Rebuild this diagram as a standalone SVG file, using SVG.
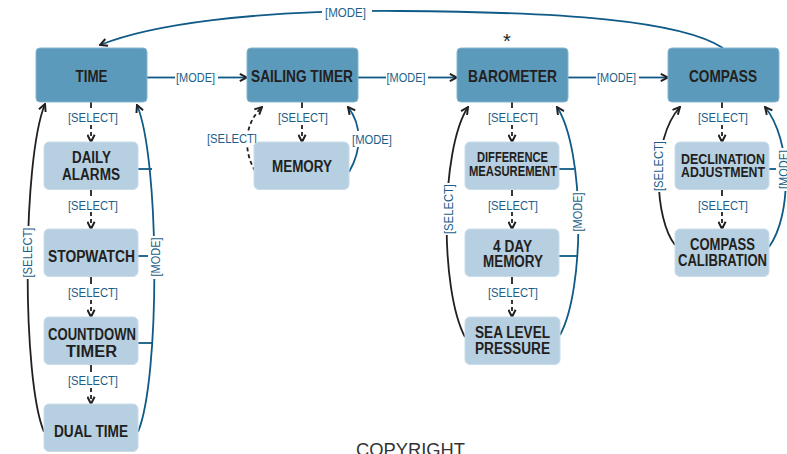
<svg xmlns="http://www.w3.org/2000/svg" width="787" height="454" viewBox="0 0 787 454">
<style>
.dk{fill:#5b9aba;stroke:#86b4ce;stroke-width:1}
.lt{fill:#b6cfe1;stroke:#c9dcea;stroke-width:1}
.t{font-family:"Liberation Sans",Arial,sans-serif;font-weight:bold;fill:#231f20;text-anchor:middle}
.m{font-size:16.5px}
.s{font-size:16px}
.xs{font-size:15px}
.lb{font-family:"Liberation Sans",Arial,sans-serif;font-size:12.5px;fill:#1d5f8a;text-anchor:middle}
.bl{stroke:#0f5a86;stroke-width:1.8;fill:none}
.bk{stroke:#231f20;stroke-width:1.8;fill:none}
.ds{stroke-dasharray:4 3}
.bg{fill:#ffffff}
</style>
<defs>
<marker id="arr" viewBox="0 0 10 10" refX="9" refY="5" markerWidth="9" markerHeight="9" markerUnits="userSpaceOnUse" orient="auto">
<path d="M1,1 L9,5 L1,9" fill="none" stroke="#231f20" stroke-width="2.2"/>
</marker>
</defs>
<rect width="787" height="454" fill="#ffffff"/>

<g id="connectors">
<!-- top arc compass -> time -->
<path class="bl" d="M723,48 C680,20 560,12 400,11 C250,10 150,25 100,45" marker-end="url(#arr)"/>
<rect class="bg" x="322" y="3" width="50" height="17"/>
<text class="lb" x="345.5" y="16.5" textLength="41" lengthAdjust="spacingAndGlyphs">[MODE]</text>

<!-- horizontal mode arrows -->
<path class="bl" d="M147,77.5 H175"/>
<path class="bl" d="M218,77.5 H247" marker-end="url(#arr)"/>
<text class="lb" x="195.5" y="81.5" textLength="39" lengthAdjust="spacingAndGlyphs">[MODE]</text>
<path class="bl" d="M358,77.5 H386"/>
<path class="bl" d="M428,77.5 H457" marker-end="url(#arr)"/>
<text class="lb" x="406" y="81.5" textLength="39" lengthAdjust="spacingAndGlyphs">[MODE]</text>
<path class="bl" d="M568,77.5 H596"/>
<path class="bl" d="M639,77.5 H668" marker-end="url(#arr)"/>
<text class="lb" x="616.5" y="81.5" textLength="39" lengthAdjust="spacingAndGlyphs">[MODE]</text>

<!-- TIME column select chain -->
<path class="bk" d="M91,102 V108"/>
<path class="bk ds" d="M91,125 V142" marker-end="url(#arr)"/>
<text class="lb" x="93" y="122" textLength="50" lengthAdjust="spacingAndGlyphs">[SELECT]</text>
<path class="bk" d="M91,189.5 V196"/>
<path class="bk ds" d="M91,212 V229" marker-end="url(#arr)"/>
<text class="lb" x="93" y="209.5" textLength="50" lengthAdjust="spacingAndGlyphs">[SELECT]</text>
<path class="bk" d="M91,276.5 V284"/>
<path class="bk ds" d="M91,300 V317" marker-end="url(#arr)"/>
<text class="lb" x="93" y="297" textLength="50" lengthAdjust="spacingAndGlyphs">[SELECT]</text>
<path class="bk" d="M91,364.5 V372"/>
<path class="bk ds" d="M91,388 V404" marker-end="url(#arr)"/>
<text class="lb" x="93" y="385" textLength="50" lengthAdjust="spacingAndGlyphs">[SELECT]</text>

<!-- TIME column return arcs -->
<path class="bk" d="M44,432 C22,380 22,160 45,104" marker-end="url(#arr)"/>
<rect class="bg" x="20" y="226" width="14" height="53"/>
<text class="lb" transform="translate(27,252.5) rotate(-90)" x="0" y="4.5" textLength="50" lengthAdjust="spacingAndGlyphs">[SELECT]</text>
<path class="bl" d="M138,432 C160,380 160,160 137,105" marker-end="url(#arr)"/>
<path class="bl" d="M138,169 H152"/>
<path class="bl" d="M138,256 H150"/>
<path class="bl" d="M138,343 H153"/>
<rect class="bg" x="148" y="236" width="14" height="43"/>
<text class="lb" transform="translate(155,257) rotate(-90)" x="0" y="4.5" textLength="39" lengthAdjust="spacingAndGlyphs">[MODE]</text>

<!-- SAILING TIMER column -->
<path class="bk" d="M302,102 V108"/>
<path class="bk ds" d="M302,125 V142" marker-end="url(#arr)"/>
<text class="lb" x="303" y="121.5" textLength="50" lengthAdjust="spacingAndGlyphs">[SELECT]</text>
<path class="bk ds" d="M255,171 C243,150 244,124 262,107" marker-end="url(#arr)"/>
<rect class="bg" x="205" y="131" width="54" height="15"/>
<text class="lb" x="232" y="143" textLength="50" lengthAdjust="spacingAndGlyphs">[SELECT]</text>
<path class="bl" d="M349,172 C362,150 362,125 348,107" marker-end="url(#arr)"/>
<rect class="bg" x="352" y="131" width="42" height="16"/>
<text class="lb" x="372" y="144" textLength="40" lengthAdjust="spacingAndGlyphs">[MODE]</text>

<!-- BAROMETER column -->
<path class="bk" d="M512,102 V108"/>
<path class="bk ds" d="M512,125 V142" marker-end="url(#arr)"/>
<text class="lb" x="513" y="122" textLength="50" lengthAdjust="spacingAndGlyphs">[SELECT]</text>
<path class="bk" d="M512,189.5 V196"/>
<path class="bk ds" d="M512,212 V229" marker-end="url(#arr)"/>
<text class="lb" x="513" y="209.5" textLength="50" lengthAdjust="spacingAndGlyphs">[SELECT]</text>
<path class="bk" d="M512,276.5 V284"/>
<path class="bk ds" d="M512,300 V317" marker-end="url(#arr)"/>
<text class="lb" x="513" y="297" textLength="50" lengthAdjust="spacingAndGlyphs">[SELECT]</text>
<path class="bk" d="M465,337 C440,290 440,150 468,107" marker-end="url(#arr)"/>
<rect class="bg" x="441" y="183" width="14" height="52"/>
<text class="lb" transform="translate(448,209) rotate(-90)" x="0" y="4.5" textLength="50" lengthAdjust="spacingAndGlyphs">[SELECT]</text>
<path class="bl" d="M560,335 C585,290 585,150 557,107" marker-end="url(#arr)"/>
<path class="bl" d="M559,169 H574"/>
<path class="bl" d="M559,256 H577"/>
<rect class="bg" x="570" y="191" width="14" height="43"/>
<text class="lb" transform="translate(577,212) rotate(-90)" x="0" y="4.5" textLength="39" lengthAdjust="spacingAndGlyphs">[MODE]</text>

<!-- COMPASS column -->
<path class="bk" d="M722,102 V108"/>
<path class="bk ds" d="M722,125 V142" marker-end="url(#arr)"/>
<text class="lb" x="723" y="122" textLength="50" lengthAdjust="spacingAndGlyphs">[SELECT]</text>
<path class="bk" d="M722,189.5 V196"/>
<path class="bk ds" d="M722,212 V229" marker-end="url(#arr)"/>
<text class="lb" x="723" y="209.5" textLength="50" lengthAdjust="spacingAndGlyphs">[SELECT]</text>
<path class="bk" d="M675,245 C655,220 650,140 680,107" marker-end="url(#arr)"/>
<rect class="bg" x="651" y="140" width="14" height="52"/>
<text class="lb" transform="translate(658,166) rotate(-90)" x="0" y="4.5" textLength="50" lengthAdjust="spacingAndGlyphs">[SELECT]</text>
<path class="bl" d="M769,247 C792,215 792,140 765,107" marker-end="url(#arr)"/>
<path class="bl" d="M769,169 H777"/>
<rect class="bg" x="776" y="148" width="14" height="43"/>
<text class="lb" transform="translate(783,169.5) rotate(-90)" x="0" y="4.5" textLength="39" lengthAdjust="spacingAndGlyphs">[MODE]</text>
</g>

<g id="time">
<rect class="dk" x="36" y="48" width="111" height="54" rx="4"/>
<text class="t m" x="91.5" y="81.5" textLength="32" lengthAdjust="spacingAndGlyphs">TIME</text>
</g>
<g id="sailing-timer">
<rect class="dk" x="247" y="48" width="111" height="54" rx="4"/>
<text class="t m" x="302" y="81.5" textLength="102" lengthAdjust="spacingAndGlyphs">SAILING TIMER</text>
</g>
<g id="barometer">
<rect class="dk" x="457" y="48" width="111" height="54" rx="4"/>
<text class="t m" x="512.5" y="81.5" textLength="89" lengthAdjust="spacingAndGlyphs">BAROMETER</text>
<text x="507" y="47.5" font-family="Liberation Sans, Arial, sans-serif" font-size="20" fill="#231f20" text-anchor="middle">*</text>
</g>
<g id="compass">
<rect class="dk" x="668" y="48" width="111" height="54" rx="4"/>
<text class="t m" x="723" y="81.5" textLength="68" lengthAdjust="spacingAndGlyphs">COMPASS</text>
</g>

<g id="daily-alarms">
<rect class="lt" x="44" y="142" width="94" height="47.5" rx="5"/>
<text class="t s" x="91.5" y="163" textLength="39" lengthAdjust="spacingAndGlyphs">DAILY</text>
<text class="t s" x="91" y="180" textLength="58" lengthAdjust="spacingAndGlyphs">ALARMS</text>
</g>
<g id="stopwatch">
<rect class="lt" x="44" y="229" width="94" height="47.5" rx="5"/>
<text class="t s" x="91.5" y="261.5" textLength="87" lengthAdjust="spacingAndGlyphs">STOPWATCH</text>
</g>
<g id="countdown-timer">
<rect class="lt" x="44" y="317" width="94" height="47.5" rx="5"/>
<text class="t s" x="92" y="340" textLength="88" lengthAdjust="spacingAndGlyphs">COUNTDOWN</text>
<text class="t s" x="91.5" y="357" textLength="51" lengthAdjust="spacingAndGlyphs">TIMER</text>
</g>
<g id="dual-time">
<rect class="lt" x="44" y="404" width="94" height="47.5" rx="5"/>
<text class="t s" x="91" y="437" textLength="74" lengthAdjust="spacingAndGlyphs">DUAL TIME</text>
</g>

<g id="memory">
<rect class="lt" x="254" y="142" width="95" height="47.5" rx="5"/>
<text class="t s" x="302" y="172" textLength="60" lengthAdjust="spacingAndGlyphs">MEMORY</text>
</g>

<g id="difference-measurement">
<rect class="lt" x="465" y="142" width="94" height="47.5" rx="5"/>
<text class="t xs" x="512.5" y="162" textLength="71" lengthAdjust="spacingAndGlyphs">DIFFERENCE</text>
<text class="t xs" x="513" y="176" textLength="88" lengthAdjust="spacingAndGlyphs">MEASUREMENT</text>
</g>
<g id="four-day-memory">
<rect class="lt" x="465" y="229" width="94" height="47.5" rx="5"/>
<text class="t s" x="512.5" y="252" textLength="39" lengthAdjust="spacingAndGlyphs">4 DAY</text>
<text class="t s" x="513" y="267" textLength="60" lengthAdjust="spacingAndGlyphs">MEMORY</text>
</g>
<g id="sea-level-pressure">
<rect class="lt" x="465" y="317" width="95" height="47.5" rx="5"/>
<text class="t s" x="512.5" y="338" textLength="75" lengthAdjust="spacingAndGlyphs">SEA LEVEL</text>
<text class="t s" x="512.5" y="354" textLength="75" lengthAdjust="spacingAndGlyphs">PRESSURE</text>
</g>

<g id="declination-adjustment">
<rect class="lt" x="675" y="142" width="94" height="47.5" rx="5"/>
<text class="t xs" x="723" y="164" textLength="84" lengthAdjust="spacingAndGlyphs">DECLINATION</text>
<text class="t xs" x="723" y="177" textLength="84" lengthAdjust="spacingAndGlyphs">ADJUSTMENT</text>
</g>
<g id="compass-calibration">
<rect class="lt" x="675" y="229" width="94" height="47.5" rx="5"/>
<text class="t s" x="722.5" y="250" textLength="65" lengthAdjust="spacingAndGlyphs">COMPASS</text>
<text class="t s" x="722.5" y="266" textLength="89" lengthAdjust="spacingAndGlyphs">CALIBRATION</text>
</g>

<text x="410.5" y="456" font-family="Liberation Sans, Arial, sans-serif" font-size="18" fill="#333333" text-anchor="middle" textLength="109" lengthAdjust="spacingAndGlyphs">COPYRIGHT</text>
</svg>
